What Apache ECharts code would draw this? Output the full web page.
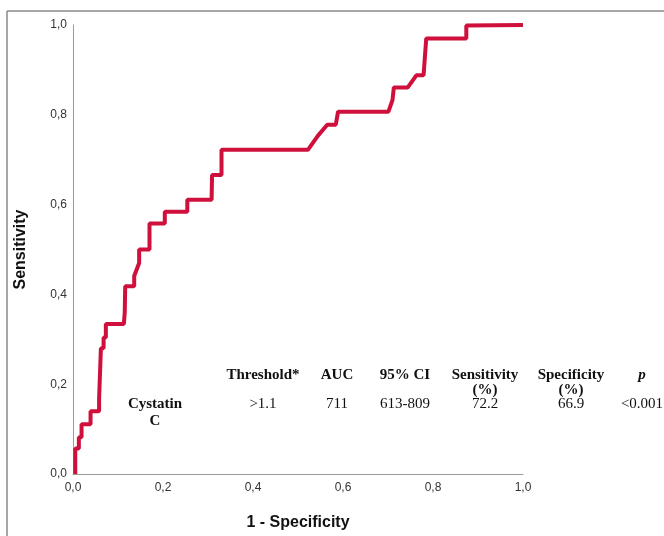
<!DOCTYPE html>
<html>
<head>
<meta charset="utf-8">
<script src="https://cdn.jsdelivr.net/npm/echarts@6/dist/echarts.min.js"></script>
<style>html,body{margin:0;padding:0;background:#fff;}#c{width:664px;height:536px;}</style>
</head>
<body>
<div id="c"></div>
<script>
// ROC curve for Cystatin C
var fpr = [0.005,0.005,0.013,0.013,0.019,0.019,0.039,0.039,0.058,0.058,0.062,0.062,0.068,0.068,0.073,0.073,0.113,0.115,0.116,0.136,0.136,0.147,0.147,0.170,0.170,0.204,0.204,0.254,0.254,0.308,0.309,0.330,0.330,0.522,0.544,0.565,0.584,0.589,0.701,0.710,0.713,0.744,0.763,0.779,0.785,0.874,0.874,1.0];
var tpr = [0,0.057,0.057,0.082,0.082,0.111,0.111,0.140,0.140,0.167,0.167,0.280,0.280,0.304,0.304,0.334,0.334,0.360,0.418,0.418,0.441,0.470,0.500,0.500,0.558,0.558,0.584,0.584,0.611,0.611,0.666,0.666,0.722,0.722,0.753,0.778,0.778,0.807,0.807,0.833,0.861,0.861,0.888,0.888,0.970,0.970,0.999,1.0];
var tickValues = [0,0.2,0.4,0.6,0.8,1.0];
var tableHeaders = ['Threshold*','AUC','95% CI','Sensitivity\n(%)','Specificity\n(%)','p'];
var tableRowLabel = 'Cystatin\nC';
var tableValues = ['>1.1','711','613-809','72.2','66.9','<0.001'];

var chart = echarts.init(document.getElementById('c'), null, {renderer:'canvas'});
var pts = fpr.map(function(x,i){return [x,tpr[i]];});
function fmt(v){return v.toFixed(1).replace('.', ',');}

var colX = [263, 337, 405, 485, 571, 642];
var serif = '"Liberation Serif", "Times New Roman", serif';
var graphics = [
  {type:'line', shape:{x1:7,y1:11,x2:664,y2:11}, style:{stroke:'#8a8a8a', lineWidth:1.5}, silent:true},
  {type:'line', shape:{x1:7,y1:11,x2:7,y2:536}, style:{stroke:'#8a8a8a', lineWidth:1.5}, silent:true}
];
tableHeaders.forEach(function(h,i){
  graphics.push({type:'text', x:colX[i], y:368, style:{text:h, font:(i===5?'italic ':'')+'bold 15px '+serif, fill:'#111', align:'center', verticalAlign:'top', lineHeight:15}});
});
tableValues.forEach(function(v,i){
  graphics.push({type:'text', x:colX[i], y:397, style:{text:v, font:'15px '+serif, fill:'#111', align:'center', verticalAlign:'top'}});
});
graphics.push({type:'text', x:155, y:396, style:{text:tableRowLabel, font:'bold 15px '+serif, fill:'#111', align:'center', verticalAlign:'top', lineHeight:17}});

chart.setOption({
  animation:false,
  backgroundColor:'#fff',
  grid:{left:73, right:141, top:25, bottom:61, containLabel:false},
  xAxis:{type:'value', min:0, max:1, interval:0.2,
    name:'1 - Specificity', nameLocation:'middle', nameGap:41,
    nameTextStyle:{fontFamily:'"Liberation Sans", Arial, sans-serif', fontWeight:'bold', fontSize:16, color:'#111'},
    axisLine:{show:true, lineStyle:{color:'#9a9a9a', width:1}},
    axisTick:{show:false}, splitLine:{show:false},
    axisLabel:{formatter:fmt, color:'#333', fontSize:12, fontFamily:'"Liberation Sans", Arial, sans-serif', margin:8}
  },
  yAxis:{type:'value', min:0, max:1, interval:0.2,
    name:'Sensitivity', nameLocation:'middle', nameGap:44,
    nameTextStyle:{fontFamily:'"Liberation Sans", Arial, sans-serif', fontWeight:'bold', fontSize:16, color:'#111'},
    axisLine:{show:true, lineStyle:{color:'#9a9a9a', width:1}},
    axisTick:{show:false}, splitLine:{show:false},
    axisLabel:{formatter:fmt, color:'#333', fontSize:12, fontFamily:'"Liberation Sans", Arial, sans-serif', margin:6}
  },
  series:[{type:'line', data:pts, symbol:'none', lineStyle:{color:'#d0103c', width:4}, z:3}],
  graphic:graphics
});
</script>
</body>
</html>
